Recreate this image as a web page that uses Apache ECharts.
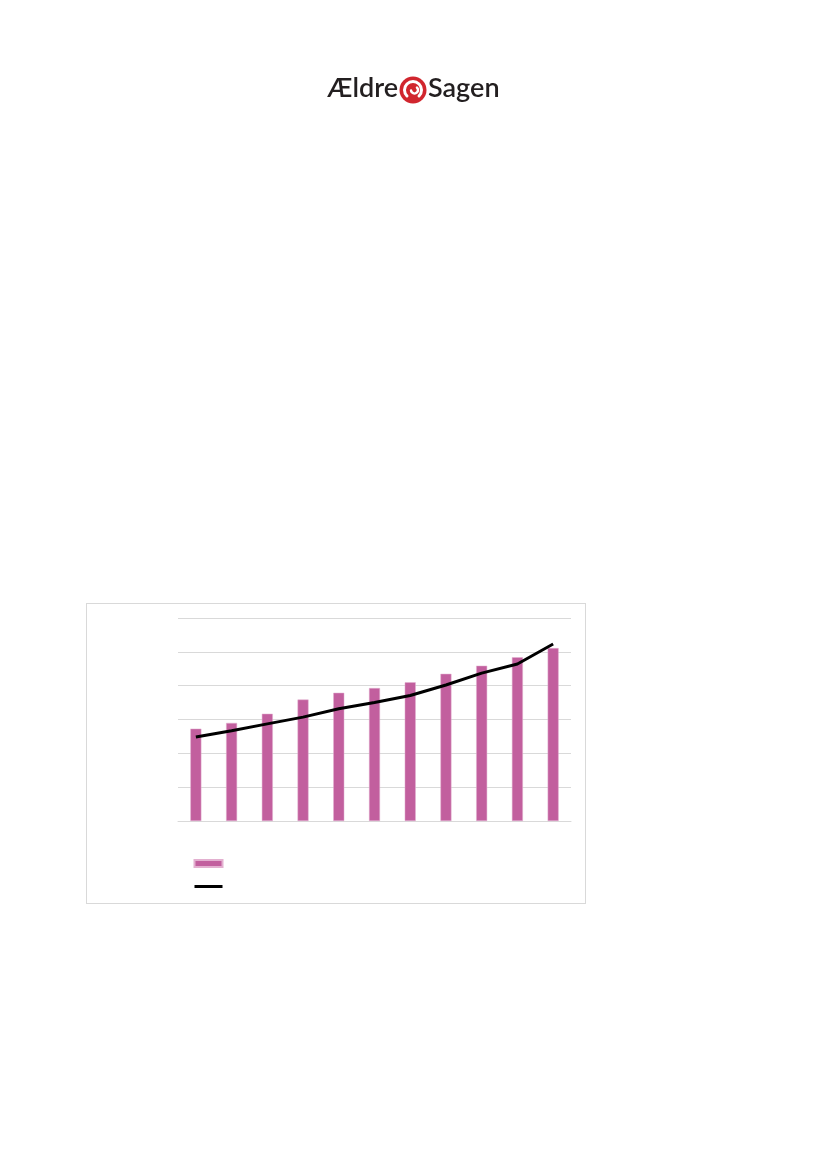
<!DOCTYPE html>
<html><head><meta charset="utf-8">
<script src="https://cdn.jsdelivr.net/npm/echarts@6/dist/echarts.min.js"></script>
<style>html,body{margin:0;padding:0;background:#fff}#c{width:827px;height:1170px}
#box{position:absolute;left:86px;top:603px;width:500px;height:301px;border:1px solid #d9d9d9;box-sizing:border-box}</style>
</head><body>
<div id="box"></div>
<div id="c" style="position:absolute;left:0;top:0"></div>
<script>
const categories = ['1','2','3','4','5','6','7','8','9','10','11'];
const barValues = [27.3, 29.0, 31.7, 35.9, 37.9, 39.3, 41.0, 43.5, 45.9, 48.4, 51.1];
const lineValues = [24.8, 26.7, 28.7, 30.7, 33.2, 35.0, 37.1, 40.2, 43.7, 46.4, 52.3];
const chart = echarts.init(document.getElementById('c'), null, {renderer:'canvas'});
chart.setOption({
  animation:false,
  backgroundColor:'transparent',
  grid:{left:178, right:256, top:618, bottom:349, containLabel:false},
  xAxis:{type:'category', data:categories, axisLine:{show:true, lineStyle:{color:'#d9d9d9', width:1}},
    axisTick:{show:false}, axisLabel:{show:false}},
  yAxis:{type:'value', min:0, max:60, interval:10, axisLine:{show:false}, axisTick:{show:false},
    axisLabel:{show:false}, splitLine:{lineStyle:{color:'#d9d9d9', width:1}}},
  legend:{orient:'vertical', left:193, top:859, padding:0, itemGap:15, itemWidth:28, itemHeight:7,
    formatter:()=>'', textStyle:{fontSize:1},
    data:[{name:'A', icon:'rect', itemStyle:{color:'#c25f9e'}},
          {name:'B', itemStyle:{color:'transparent', borderWidth:0, opacity:0}, lineStyle:{width:3, color:'#000'}}]},
  series:[
    {name:'A', type:'bar', data:barValues, barWidth:11, itemStyle:{color:'#c25f9e', borderColor:'#e3b0d0', borderWidth:0.5}},
    {name:'B', type:'line', data:lineValues, symbol:'none', lineStyle:{color:'#000', width:3}, itemStyle:{color:'#000'}}
  ],
  graphic:[
    {type:'text', style:{x:398, y:88.5, text:'Ældre', align:'right', verticalAlign:'middle', font:'600 27px Lato, sans-serif', fill:'#231f20'}},
    {type:'text', style:{x:428, y:88.5, text:'Sagen', align:'left', verticalAlign:'middle', font:'600 27px Lato, sans-serif', fill:'#231f20'}},
    {type:'circle', shape:{cx:413, cy:90, r:13.5}, style:{fill:'#d1262e'}},
    {type:'arc', shape:{cx:413, cy:90, r:8.5, startAngle:Math.PI*0.75, endAngle:Math.PI*2.25}, style:{fill:'none', stroke:'#fff', lineWidth:3, lineCap:'round'}},
    {type:'arc', shape:{cx:414.5, cy:90, r:3.5, startAngle:Math.PI*1.75, endAngle:Math.PI*2.95}, style:{fill:'none', stroke:'#fff', lineWidth:2.5, lineCap:'round'}}
  ]
});
</script>
</body></html>
